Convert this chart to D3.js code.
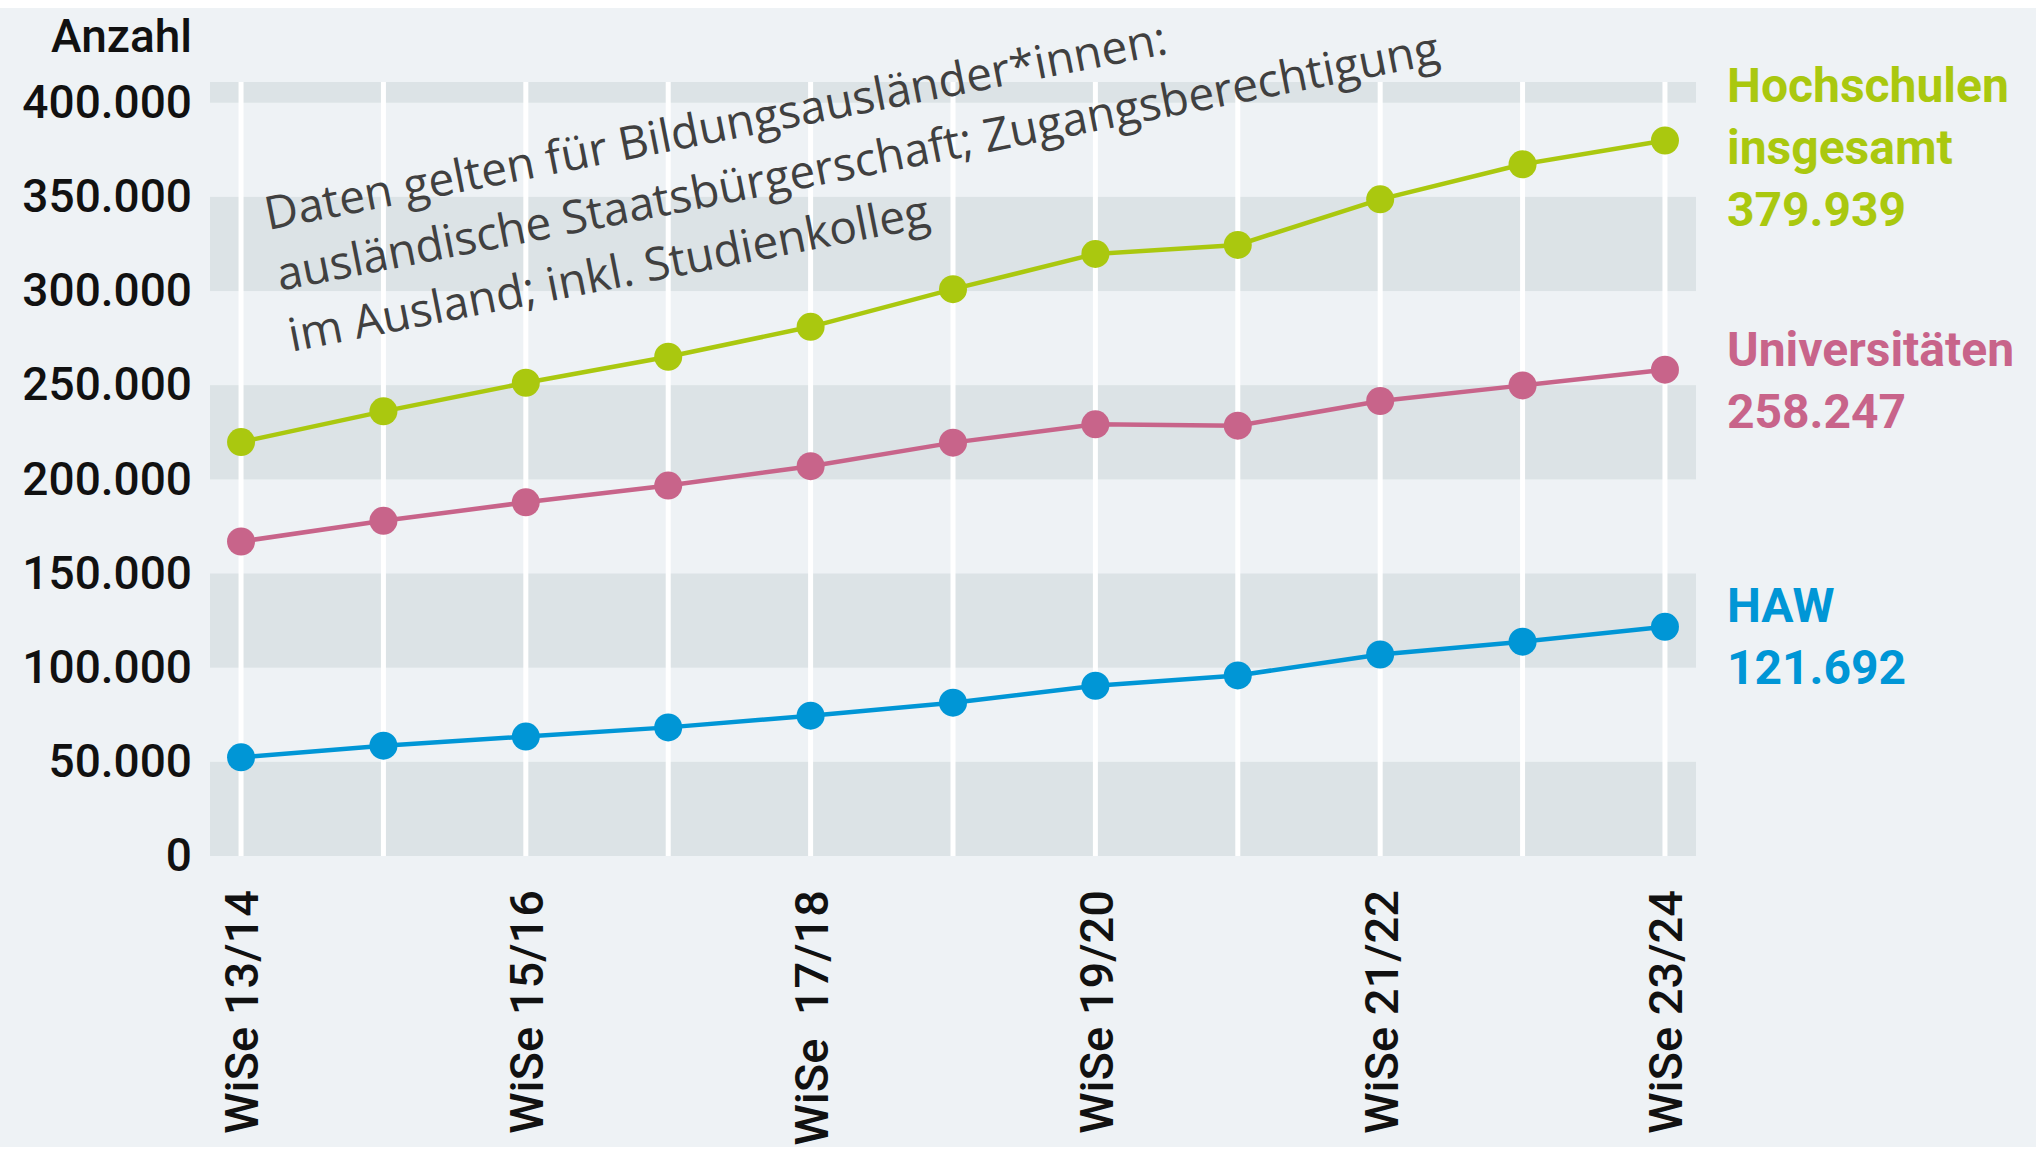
<!DOCTYPE html>
<html>
<head>
<meta charset="utf-8">
<script src="https://cdn.jsdelivr.net/npm/d3@7"></script>
<style>
  body { margin: 0; background: #fff; }
  text { font-family: Roboto, "Noto Sans", sans-serif; }
</style>
</head>
<body>
<div id="myChart"></div>
<script>
// Data
let categories = [
  "WiSe 13/14", "WiSe 14/15", "WiSe 15/16", "WiSe 16/17", "WiSe 17/18", "WiSe 18/19",
  "WiSe 19/20", "WiSe 20/21", "WiSe 21/22", "WiSe 22/23", "WiSe 23/24",
];
let tickLabels = [
  "WiSe 13/14", "", "WiSe 15/16", "", "WiSe  17/18", "",
  "WiSe 19/20", "", "WiSe 21/22", "", "WiSe 23/24",
];
let hochschulen = [219800, 236100, 251300, 265100, 281000, 301000, 319700, 324500, 348700, 367300, 379939];
let universitaeten = [167000, 178000, 187800, 196700, 207000, 219500, 229200, 228500, 241600, 249900, 258247];
let haw = [52400, 58600, 63400, 68300, 74500, 81400, 90400, 95900, 107000, 113800, 121692];
let yTicks = [0, 50000, 100000, 150000, 200000, 250000, 300000, 350000, 400000];
let yMax = 411000;
let noteLines = [
  "Daten gelten für Bildungsausländer*innen:",
  "ausländische Staatsbürgerschaft; Zugangsberechtigung",
  "im Ausland; inkl. Studienkolleg",
];

let series = [
  { name: ["Hochschulen", "insgesamt"], values: hochschulen, color: "#aac80f" },
  { name: ["Universitäten"], values: universitaeten, color: "#c8648a" },
  { name: ["HAW"], values: haw, color: "#0096d6" },
];

// Layout
let W = 2036, H = 1153;
let plot = { left: 210, right: 1696, top: 82, bottom: 856 };
let labelTop = { "Hochschulen": 102, "Universitäten": 366, "HAW": 622 };

let de = d3.formatLocale({ decimal: ",", thousands: ".", grouping: [3], currency: ["", " €"] });
let fmt = de.format(",");

let svg = d3.select("#myChart").append("svg").attr("width", W).attr("height", H);

// Background
svg.append("rect").attr("x", 0).attr("y", 8).attr("width", W).attr("height", H - 14).attr("fill", "#eef2f5");

let x = d3.scalePoint().domain(categories).range([plot.left, plot.right]).padding(0.218);
let y = d3.scaleLinear().domain([0, yMax]).range([plot.bottom, plot.top]);

// Alternating bands
let bands = [];
for (let v = 0; v < yMax; v += 100000) bands.push([v, Math.min(v + 50000, yMax)]);
svg.append("g")
  .selectAll("rect")
  .data(bands)
  .enter()
  .append("rect")
  .attr("x", plot.left)
  .attr("width", plot.right - plot.left)
  .attr("y", (d) => y(d[1]))
  .attr("height", (d) => y(d[0]) - y(d[1]))
  .attr("fill", "#dce3e6");

// Vertical white gridlines
svg.append("g")
  .selectAll("line")
  .data(categories)
  .enter()
  .append("line")
  .attr("x1", (d) => x(d))
  .attr("x2", (d) => x(d))
  .attr("y1", plot.top)
  .attr("y2", plot.bottom)
  .attr("stroke", "#fff")
  .attr("stroke-width", 5);

// Y axis
let yAxis = svg.append("g")
  .attr("transform", `translate(${plot.left},0)`)
  .call(d3.axisLeft(y).tickValues(yTicks).tickSize(0).tickPadding(18).tickFormat(fmt));
yAxis.select(".domain").remove();
yAxis.selectAll(".tick text")
  .style("font-size", "46px")
  .style("font-family", "Roboto")
  .style("font-weight", "500")
  .attr("fill", "#111");

svg.append("text")
  .attr("x", 192)
  .attr("y", 52)
  .attr("text-anchor", "end")
  .style("font-size", "46px")
  .style("font-weight", "500")
  .attr("fill", "#111")
  .text("Anzahl");

// X axis
let xAxis = svg.append("g")
  .attr("transform", `translate(0,${plot.bottom})`)
  .call(d3.axisBottom(x).tickSize(0).tickFormat((d, i) => tickLabels[i]));
xAxis.select(".domain").remove();
xAxis.selectAll(".tick text")
  .attr("transform", "rotate(-90)")
  .attr("x", -34)
  .attr("y", 0)
  .attr("dy", "0.36em")
  .attr("text-anchor", "end")
  .style("white-space", "pre")
  .style("font-size", "47px")
  .style("font-family", "Roboto")
  .style("font-weight", "500")
  .attr("fill", "#111");

// Lines and dots
let line = d3.line()
  .x((d, i) => x(categories[i]))
  .y((d) => y(d));

series.forEach((s) => {
  svg.append("path")
    .datum(s.values)
    .attr("d", line)
    .attr("fill", "none")
    .attr("stroke", s.color)
    .attr("stroke-width", 4.5);

  svg.append("g")
    .selectAll("circle")
    .data(s.values)
    .enter()
    .append("circle")
    .attr("cx", (d, i) => x(categories[i]))
    .attr("cy", (d) => y(d))
    .attr("r", 14)
    .attr("fill", s.color);

  // End labels
  let lines = s.name.concat([fmt(s.values[s.values.length - 1])]);
  let t = svg.append("text")
    .attr("x", 1727)
    .attr("y", labelTop[s.name[0]])
    .attr("fill", s.color)
    .style("font-size", "48px")
    .style("font-weight", "700");
  t.selectAll("tspan")
    .data(lines)
    .enter()
    .append("tspan")
    .attr("x", 1727)
    .attr("dy", (d, i) => (i === 0 ? 0 : 62))
    .text((d) => d);
});

// Rotated note
let note = svg.append("text")
  .attr("transform", "translate(268,230) rotate(-11.08)")
  .attr("fill", "#404040")
  .style("font-family", "'Open Sans'")
  .style("font-size", "46px");
note.selectAll("tspan")
  .data(noteLines)
  .enter()
  .append("tspan")
  .attr("x", 0)
  .attr("dy", (d, i) => (i === 0 ? 0 : 62))
  .text((d) => d);
</script>
</body>
</html>
